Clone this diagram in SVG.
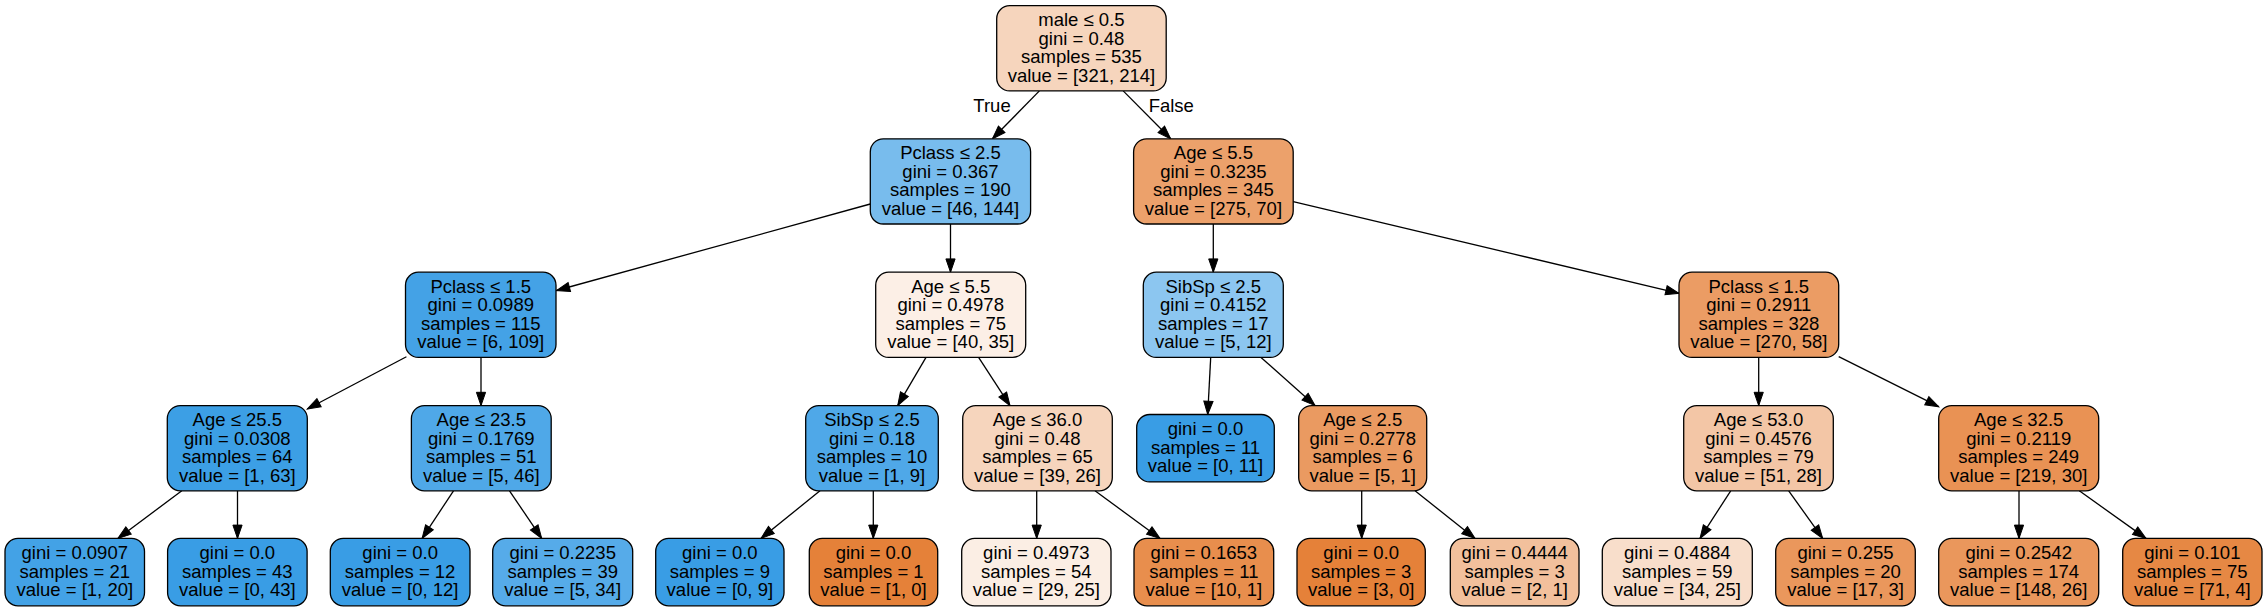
<svg xmlns="http://www.w3.org/2000/svg" width="2267" height="611" viewBox="0 0 2267 611">
<style>
.node rect{stroke:#000;stroke-width:1.3}
text{font-family:"Liberation Sans",Arial,Helvetica,sans-serif;font-size:18.5px;fill:#000;text-anchor:middle}
.edges line{stroke:#000;stroke-width:1.3;marker-end:url(#ah)}
</style>
<defs>
<marker id="ah" markerUnits="userSpaceOnUse" markerWidth="14" markerHeight="10" viewBox="0 0 14 10" refX="13.3" refY="5" orient="auto" overflow="visible">
<path d="M0,0.4 L13.3,5 L0,9.6 Z" fill="#000" stroke="#000" stroke-width="1"/>
</marker>
</defs>
<rect width="2267" height="611" fill="#fff"/>
<g class="edges">
<line x1="1039.4" y1="90.9" x2="992.4" y2="138.8"/>
<line x1="1123.2" y1="90.9" x2="1170.7" y2="138.8"/>
<line x1="870.3" y1="204" x2="556.5" y2="290.5"/>
<line x1="950.5" y1="224" x2="950.5" y2="272.2"/>
<line x1="1213.3" y1="224" x2="1213.3" y2="272.2"/>
<line x1="1293.2" y1="201.7" x2="1679" y2="293.3"/>
<line x1="406.4" y1="356.7" x2="307.3" y2="409"/>
<line x1="481" y1="357.4" x2="481" y2="405.6"/>
<line x1="926" y1="357.4" x2="897.7" y2="405.6"/>
<line x1="978.6" y1="357.4" x2="1010" y2="405.6"/>
<line x1="1210.7" y1="357.4" x2="1207.7" y2="414.5"/>
<line x1="1261" y1="357.4" x2="1315" y2="405.6"/>
<line x1="1758.7" y1="357.4" x2="1758.7" y2="405.6"/>
<line x1="1838.7" y1="356.7" x2="1938.7" y2="406.7"/>
<line x1="181.8" y1="490.8" x2="117.9" y2="538.4"/>
<line x1="237.5" y1="490.8" x2="237.5" y2="538.4"/>
<line x1="453.5" y1="490.8" x2="422.1" y2="538.4"/>
<line x1="509.5" y1="490.8" x2="541.7" y2="538.4"/>
<line x1="820" y1="490.8" x2="761" y2="538.4"/>
<line x1="873.3" y1="490.8" x2="873.3" y2="538.4"/>
<line x1="1036.7" y1="490.8" x2="1036.7" y2="538.4"/>
<line x1="1095" y1="490.8" x2="1160" y2="538.4"/>
<line x1="1361.7" y1="490.8" x2="1361.7" y2="538.4"/>
<line x1="1415" y1="490.8" x2="1475" y2="538.4"/>
<line x1="1730.7" y1="490.8" x2="1700" y2="538.4"/>
<line x1="1788.7" y1="490.8" x2="1822.7" y2="538.4"/>
<line x1="2019" y1="490.8" x2="2019" y2="538.4"/>
<line x1="2079.3" y1="490.8" x2="2146" y2="538.4"/>
<text x="992" y="111.7">True</text>
<text x="1171.3" y="111.7">False</text>
</g>
<g id="node0" class="node"><rect x="996.7" y="5.7" width="169.5" height="85.2" rx="13" fill="#f6d5bd"/><text><tspan x="1081.45" y="26.1">male ≤ 0.5</tspan><tspan x="1081.45" y="44.6">gini = 0.48</tspan><tspan x="1081.45" y="63.1">samples = 535</tspan><tspan x="1081.45" y="81.6">value = [321, 214]</tspan></text></g>
<g id="node1" class="node"><rect x="870.3" y="138.8" width="160.3" height="85.2" rx="13" fill="#78bced"/><text><tspan x="950.45" y="159.2">Pclass ≤ 2.5</tspan><tspan x="950.45" y="177.7">gini = 0.367</tspan><tspan x="950.45" y="196.2">samples = 190</tspan><tspan x="950.45" y="214.7">value = [46, 144]</tspan></text></g>
<g id="node2" class="node"><rect x="1133.6" y="138.8" width="159.6" height="85.2" rx="13" fill="#eca16b"/><text><tspan x="1213.4" y="159.2">Age ≤ 5.5</tspan><tspan x="1213.4" y="177.7">gini = 0.3235</tspan><tspan x="1213.4" y="196.2">samples = 345</tspan><tspan x="1213.4" y="214.7">value = [275, 70]</tspan></text></g>
<g id="node3" class="node"><rect x="405.5" y="272.2" width="150.5" height="85.2" rx="13" fill="#44a2e6"/><text><tspan x="480.75" y="292.6">Pclass ≤ 1.5</tspan><tspan x="480.75" y="311.1">gini = 0.0989</tspan><tspan x="480.75" y="329.6">samples = 115</tspan><tspan x="480.75" y="348.1">value = [6, 109]</tspan></text></g>
<g id="node4" class="node"><rect x="875.7" y="272.2" width="150" height="85.2" rx="13" fill="#fcefe6"/><text><tspan x="950.7" y="292.6">Age ≤ 5.5</tspan><tspan x="950.7" y="311.1">gini = 0.4978</tspan><tspan x="950.7" y="329.6">samples = 75</tspan><tspan x="950.7" y="348.1">value = [40, 35]</tspan></text></g>
<g id="node5" class="node"><rect x="1143.3" y="272.2" width="140" height="85.2" rx="13" fill="#8cc6f0"/><text><tspan x="1213.3" y="292.6">SibSp ≤ 2.5</tspan><tspan x="1213.3" y="311.1">gini = 0.4152</tspan><tspan x="1213.3" y="329.6">samples = 17</tspan><tspan x="1213.3" y="348.1">value = [5, 12]</tspan></text></g>
<g id="node6" class="node"><rect x="1679" y="272.2" width="159.7" height="85.2" rx="13" fill="#eb9c64"/><text><tspan x="1758.85" y="292.6">Pclass ≤ 1.5</tspan><tspan x="1758.85" y="311.1">gini = 0.2911</tspan><tspan x="1758.85" y="329.6">samples = 328</tspan><tspan x="1758.85" y="348.1">value = [270, 58]</tspan></text></g>
<g id="node7" class="node"><rect x="167.3" y="405.6" width="140" height="85.2" rx="13" fill="#3c9fe5"/><text><tspan x="237.3" y="426">Age ≤ 25.5</tspan><tspan x="237.3" y="444.5">gini = 0.0308</tspan><tspan x="237.3" y="463">samples = 64</tspan><tspan x="237.3" y="481.5">value = [1, 63]</tspan></text></g>
<g id="node8" class="node"><rect x="411.4" y="405.6" width="139.8" height="85.2" rx="13" fill="#4fa8e8"/><text><tspan x="481.3" y="426">Age ≤ 23.5</tspan><tspan x="481.3" y="444.5">gini = 0.1769</tspan><tspan x="481.3" y="463">samples = 51</tspan><tspan x="481.3" y="481.5">value = [5, 46]</tspan></text></g>
<g id="node9" class="node"><rect x="805.7" y="405.6" width="132.6" height="85.2" rx="13" fill="#4fa8e8"/><text><tspan x="872" y="426">SibSp ≤ 2.5</tspan><tspan x="872" y="444.5">gini = 0.18</tspan><tspan x="872" y="463">samples = 10</tspan><tspan x="872" y="481.5">value = [1, 9]</tspan></text></g>
<g id="node10" class="node"><rect x="962.7" y="405.6" width="149.6" height="85.2" rx="13" fill="#f6d5bd"/><text><tspan x="1037.5" y="426">Age ≤ 36.0</tspan><tspan x="1037.5" y="444.5">gini = 0.48</tspan><tspan x="1037.5" y="463">samples = 65</tspan><tspan x="1037.5" y="481.5">value = [39, 26]</tspan></text></g>
<g id="node11" class="node"><rect x="1136.7" y="414.5" width="137.6" height="67.4" rx="13" fill="#399de5"/><text><tspan x="1205.5" y="435.3">gini = 0.0</tspan><tspan x="1205.5" y="453.8">samples = 11</tspan><tspan x="1205.5" y="472.3">value = [0, 11]</tspan></text></g>
<g id="node12" class="node"><rect x="1298.7" y="405.6" width="128" height="85.2" rx="13" fill="#ea9a61"/><text><tspan x="1362.7" y="426">Age ≤ 2.5</tspan><tspan x="1362.7" y="444.5">gini = 0.2778</tspan><tspan x="1362.7" y="463">samples = 6</tspan><tspan x="1362.7" y="481.5">value = [5, 1]</tspan></text></g>
<g id="node13" class="node"><rect x="1683.7" y="405.6" width="149.6" height="85.2" rx="13" fill="#f3c6a6"/><text><tspan x="1758.5" y="426">Age ≤ 53.0</tspan><tspan x="1758.5" y="444.5">gini = 0.4576</tspan><tspan x="1758.5" y="463">samples = 79</tspan><tspan x="1758.5" y="481.5">value = [51, 28]</tspan></text></g>
<g id="node14" class="node"><rect x="1938.7" y="405.6" width="160" height="85.2" rx="13" fill="#e99254"/><text><tspan x="2018.7" y="426">Age ≤ 32.5</tspan><tspan x="2018.7" y="444.5">gini = 0.2119</tspan><tspan x="2018.7" y="463">samples = 249</tspan><tspan x="2018.7" y="481.5">value = [219, 30]</tspan></text></g>
<g id="node15" class="node"><rect x="5" y="538.4" width="139.5" height="67.4" rx="13" fill="#43a2e6"/><text><tspan x="74.75" y="559.2">gini = 0.0907</tspan><tspan x="74.75" y="577.7">samples = 21</tspan><tspan x="74.75" y="596.2">value = [1, 20]</tspan></text></g>
<g id="node16" class="node"><rect x="167.6" y="538.4" width="139.5" height="67.4" rx="13" fill="#399de5"/><text><tspan x="237.35" y="559.2">gini = 0.0</tspan><tspan x="237.35" y="577.7">samples = 43</tspan><tspan x="237.35" y="596.2">value = [0, 43]</tspan></text></g>
<g id="node17" class="node"><rect x="330.3" y="538.4" width="139.7" height="67.4" rx="13" fill="#399de5"/><text><tspan x="400.15" y="559.2">gini = 0.0</tspan><tspan x="400.15" y="577.7">samples = 12</tspan><tspan x="400.15" y="596.2">value = [0, 12]</tspan></text></g>
<g id="node18" class="node"><rect x="492.7" y="538.4" width="140" height="67.4" rx="13" fill="#56abe9"/><text><tspan x="562.7" y="559.2">gini = 0.2235</tspan><tspan x="562.7" y="577.7">samples = 39</tspan><tspan x="562.7" y="596.2">value = [5, 34]</tspan></text></g>
<g id="node19" class="node"><rect x="655.7" y="538.4" width="128.3" height="67.4" rx="13" fill="#399de5"/><text><tspan x="719.85" y="559.2">gini = 0.0</tspan><tspan x="719.85" y="577.7">samples = 9</tspan><tspan x="719.85" y="596.2">value = [0, 9]</tspan></text></g>
<g id="node20" class="node"><rect x="809.3" y="538.4" width="128.4" height="67.4" rx="13" fill="#e58139"/><text><tspan x="873.5" y="559.2">gini = 0.0</tspan><tspan x="873.5" y="577.7">samples = 1</tspan><tspan x="873.5" y="596.2">value = [1, 0]</tspan></text></g>
<g id="node21" class="node"><rect x="961.7" y="538.4" width="149.3" height="67.4" rx="13" fill="#fbeee4"/><text><tspan x="1036.35" y="559.2">gini = 0.4973</tspan><tspan x="1036.35" y="577.7">samples = 54</tspan><tspan x="1036.35" y="596.2">value = [29, 25]</tspan></text></g>
<g id="node22" class="node"><rect x="1134" y="538.4" width="139.7" height="67.4" rx="13" fill="#e88e4d"/><text><tspan x="1203.85" y="559.2">gini = 0.1653</tspan><tspan x="1203.85" y="577.7">samples = 11</tspan><tspan x="1203.85" y="596.2">value = [10, 1]</tspan></text></g>
<g id="node23" class="node"><rect x="1297" y="538.4" width="128.3" height="67.4" rx="13" fill="#e58139"/><text><tspan x="1361.15" y="559.2">gini = 0.0</tspan><tspan x="1361.15" y="577.7">samples = 3</tspan><tspan x="1361.15" y="596.2">value = [3, 0]</tspan></text></g>
<g id="node24" class="node"><rect x="1450.3" y="538.4" width="128.7" height="67.4" rx="13" fill="#f2c09c"/><text><tspan x="1514.65" y="559.2">gini = 0.4444</tspan><tspan x="1514.65" y="577.7">samples = 3</tspan><tspan x="1514.65" y="596.2">value = [2, 1]</tspan></text></g>
<g id="node25" class="node"><rect x="1602.3" y="538.4" width="150" height="67.4" rx="13" fill="#f8decb"/><text><tspan x="1677.3" y="559.2">gini = 0.4884</tspan><tspan x="1677.3" y="577.7">samples = 59</tspan><tspan x="1677.3" y="596.2">value = [34, 25]</tspan></text></g>
<g id="node26" class="node"><rect x="1775.7" y="538.4" width="139.6" height="67.4" rx="13" fill="#ea975c"/><text><tspan x="1845.5" y="559.2">gini = 0.255</tspan><tspan x="1845.5" y="577.7">samples = 20</tspan><tspan x="1845.5" y="596.2">value = [17, 3]</tspan></text></g>
<g id="node27" class="node"><rect x="1938.7" y="538.4" width="160" height="67.4" rx="13" fill="#ea975c"/><text><tspan x="2018.7" y="559.2">gini = 0.2542</tspan><tspan x="2018.7" y="577.7">samples = 174</tspan><tspan x="2018.7" y="596.2">value = [148, 26]</tspan></text></g>
<g id="node28" class="node"><rect x="2122.7" y="538.4" width="139.3" height="67.4" rx="13" fill="#e68844"/><text><tspan x="2192.35" y="559.2">gini = 0.101</tspan><tspan x="2192.35" y="577.7">samples = 75</tspan><tspan x="2192.35" y="596.2">value = [71, 4]</tspan></text></g>
</svg>
